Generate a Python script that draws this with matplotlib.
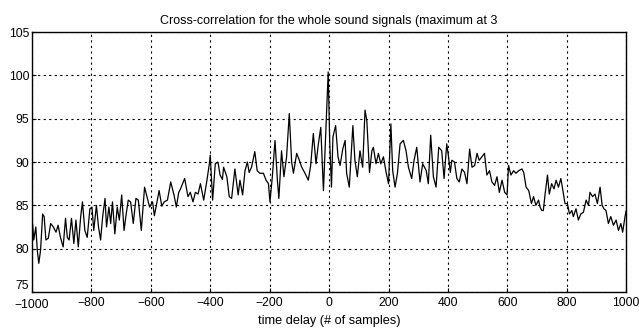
import matplotlib
matplotlib.use('Agg')
import matplotlib.pyplot as plt

# lag (samples) and cross-correlation value
lags = [-1000, -998, -994, -987, -982, -977, -971, -964, -959, -953, -945, -937, -928,
        -919, -912, -904, -895, -887, -881, -875, -867, -859, -852, -844, -836, -830,
        -822, -814, -805, -798, -792, -783, -776, -769, -762, -754, -749, -741, -735,
        -729, -721, -713, -706, -698, -690, -684, -676, -668, -659, -650, -642, -632,
        -621, -613, -604, -594, -588, -572, -563, -555, -544, -533, -522, -514, -506,
        -500, -486, -475, -467, -458, -450, -441, -433, -422, -411, -403, -400, -392,
        -383, -374, -367, -359, -355, -344, -336, -328, -317, -306, -300, -291, -283,
        -275, -269, -261, -250, -242, -233, -221, -212, -204, -199, -191, -182, -174,
        -169, -160, -152, -143, -134, -126, -120, -109, -100, -92, -81, -70, -62, -53,
        -44, -36, -28, -19, -14, -8, -3, 2, 8, 13, 22, 30, 37, 46, 54, 59, 68, 80, 87,
        95, 104, 113, 121, 127, 136, 144, 149, 158, 166, 174, 183, 192, 200, 208, 214,
        222, 230, 239, 250, 259, 267, 278, 286, 295, 306, 315, 327, 334, 342, 351, 360,
        369, 379, 387, 396, 402, 408, 413, 422, 430, 438, 447, 456, 464, 473, 481, 490,
        498, 505, 514, 523, 531, 540, 548, 557, 565, 573, 582, 591, 599, 604, 612, 621,
        629, 638, 649, 655, 663, 672, 681, 688, 696, 705, 710, 716, 721, 727, 735, 741,
        749, 757, 764, 772, 780, 786, 794, 802, 809, 817, 822, 831, 839, 847, 856, 865,
        873, 878, 887, 895, 903, 912, 919, 925, 932, 940, 948, 957, 966, 974, 982, 988,
        996, 1000]
xcorr = [81.5, 82.9, 81.0, 82.5, 79.8, 78.3, 79.8, 84.0, 83.7, 81.0, 81.2, 82.9, 82.5,
         81.9, 82.7, 81.3, 80.2, 83.5, 81.3, 81.0, 83.5, 80.6, 83.3, 80.2, 83.7, 85.4,
         82.1, 81.3, 84.6, 84.8, 82.1, 85.0, 82.5, 81.0, 83.7, 85.8, 82.5, 84.8, 82.9,
         85.4, 81.7, 84.8, 83.3, 86.2, 82.1, 83.7, 85.6, 85.4, 82.9, 85.8, 85.6, 82.1,
         87.1, 86.0, 84.8, 85.4, 83.8, 86.7, 84.9, 85.4, 85.6, 87.7, 86.2, 84.8, 86.5,
         86.9, 88.1, 86.0, 86.5, 85.4, 86.5, 86.3, 87.5, 85.6, 87.9, 89.8, 90.8, 85.6,
         89.8, 90.0, 88.5, 88.0, 89.4, 88.3, 86.0, 85.8, 89.2, 86.2, 87.9, 86.2, 89.0,
         90.0, 88.8, 89.4, 91.2, 89.0, 88.7, 88.7, 87.9, 87.5, 85.4, 88.3, 92.5, 87.9,
         85.8, 91.3, 88.3, 90.6, 95.6, 90.0, 88.7, 91.0, 90.2, 89.4, 88.7, 87.9, 89.6, 93.3,
         89.8, 92.1, 94.0, 86.7, 91.0, 96.3, 100.4, 92.5, 87.1, 92.9, 94.2, 90.6, 89.6, 91.5,
         92.5, 88.7, 87.1, 94.2, 90.2,
         88.3, 91.3, 89.4, 96.0, 94.8, 88.8, 91.3, 91.7, 89.8, 91.0, 89.8, 90.6, 88.8, 87.5,
         94.4, 89.0,
         87.1, 88.7, 92.1, 92.5, 91.3, 89.4, 88.1, 90.2, 91.7, 87.7, 89.8, 89.0, 87.5, 93.1,
         88.3, 87.1,
         91.7, 91.3, 88.1, 92.1, 90.6, 88.8, 90.2, 90.0, 88.1, 87.7, 89.2, 88.8, 87.5, 91.5,
         89.4, 89.6,
         91.0, 90.2, 90.6, 91.0, 88.5, 89.0, 87.7, 87.3, 88.3, 86.5, 87.9, 86.5, 86.2, 89.6,
         88.5, 89.0,
         88.7, 89.0, 89.2, 88.8, 87.1, 86.7, 85.2, 86.0, 85.0, 85.6, 84.8, 84.4, 84.4, 86.3,
         88.5, 86.3,
         87.5, 86.9, 87.9, 87.1, 88.1, 86.9, 85.2, 85.2, 84.0, 84.4, 83.7, 84.6, 83.3, 84.0,
         84.2, 85.6,
         85.0, 86.5, 86.0, 86.3, 85.2, 87.1, 85.0, 84.6, 84.4, 82.9, 83.7, 82.7, 83.3, 82.1,
         82.9, 81.9,
         83.7, 84.4]

xticks = [-1000, -800, -600, -400, -200, 0, 200, 400, 600, 800, 1000]
yticks = [75, 80, 85, 90, 95, 100, 105]

plt.rcParams['font.family'] = ['Liberation Sans', 'DejaVu Sans']

fig = plt.figure(figsize=(6.39, 3.28), dpi=100)
ax = fig.add_axes([0.050, 0.110, 0.930, 0.792])
ax.plot(lags, xcorr, color='black', linewidth=0.9)

ax.set_xlim(-1000, 1000)
ax.set_ylim(75, 105)
ax.set_xticks(xticks)
ax.set_yticks(yticks)
ax.tick_params(direction='in', length=3, width=0.8, labelsize=8.7)
ax.tick_params(axis='x', pad=4)
ax.tick_params(axis='y', pad=2)
# nudge the corner labels apart like the original
ax.get_yticklabels()[0].set_verticalalignment('bottom')
ax.get_xticklabels()[0].set_y(-0.005)
ax.grid(True, color='black', linestyle=(0, (2, 3)), linewidth=0.8)
for s in ax.spines.values():
    s.set_linewidth(1.0)

ax.set_title('Cross-correlation for the whole sound signals (maximum at 3', fontsize=9, pad=6)
ax.set_xlabel('time delay (# of samples)', fontsize=9.2, labelpad=3)

fig.savefig('out.png', dpi=100)
